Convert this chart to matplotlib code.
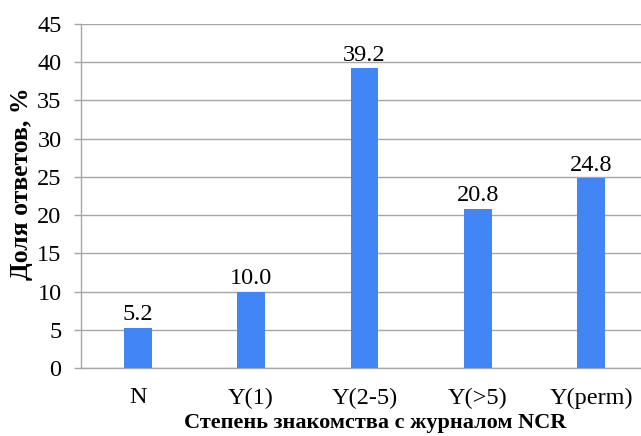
import matplotlib
matplotlib.use("Agg")
import matplotlib.pyplot as plt

categories = ["N", "Y(1)", "Y(2-5)", "Y(>5)", "Y(perm)"]
shares = [5.2, 10.0, 39.2, 20.8, 24.8]
yticks = [0, 5, 10, 15, 20, 25, 30, 35, 40, 45]

plt.rcParams["font.family"] = ["Liberation Serif", "DejaVu Serif"]

W, H = 641, 436
fig = plt.figure(figsize=(W / 100, H / 100), dpi=100)
ax_left, ax_right, ax_top, ax_bottom = 81, 648, 24, 368
ax = fig.add_axes([ax_left / W, 1 - ax_bottom / H,
                   (ax_right - ax_left) / W, (ax_bottom - ax_top) / H])

grid_color = "#a6a6a6"
bar_color = "#4285f4"

x = list(range(len(categories)))
ax.bar(x, shares, width=0.245, color=bar_color, zorder=3)
for xi, v in zip(x, shares):
    ax.annotate(f"{v:.1f}", (xi, v), xytext=(0, 2), textcoords="offset points",
                ha="center", va="bottom", fontsize=17.5)

ax.set_xlim(-0.5, len(categories) - 0.5)
ax.set_ylim(0, 45)
ax.set_yticks(yticks)
ax.set_xticks(x)
ax.set_xticklabels(categories)
ax.yaxis.grid(True, color=grid_color, linewidth=1.0, zorder=0)
ax.set_axisbelow(True)

for side in ("top", "right"):
    ax.spines[side].set_visible(False)
for side in ("left", "bottom"):
    ax.spines[side].set_color(grid_color)
    ax.spines[side].set_linewidth(1.0)

ax.tick_params(axis="y", length=5, width=1.0, color=grid_color, labelsize=17.5, pad=9)
ax.tick_params(axis="x", length=0, labelsize=17.5, pad=14)

ax.set_xlabel("Степень знакомства с журналом NCR", fontsize=16, fontweight="bold")
ax.set_ylabel("Доля ответов, %", fontsize=18.5, fontweight="bold")
# label placement in pixel terms, converted to axes fractions
ax.xaxis.set_label_coords((375 - ax_left) / (ax_right - ax_left),
                          -(428 - ax_bottom) / (ax_bottom - ax_top), transform=ax.transAxes)
ax.xaxis.label.set_va("baseline")
ax.yaxis.set_label_coords(-(ax_left - 22) / (ax_right - ax_left),
                          (ax_bottom - 184) / (ax_bottom - ax_top), transform=ax.transAxes)
ax.yaxis.label.set_va("center")

fig.savefig("out.png", dpi=100)
